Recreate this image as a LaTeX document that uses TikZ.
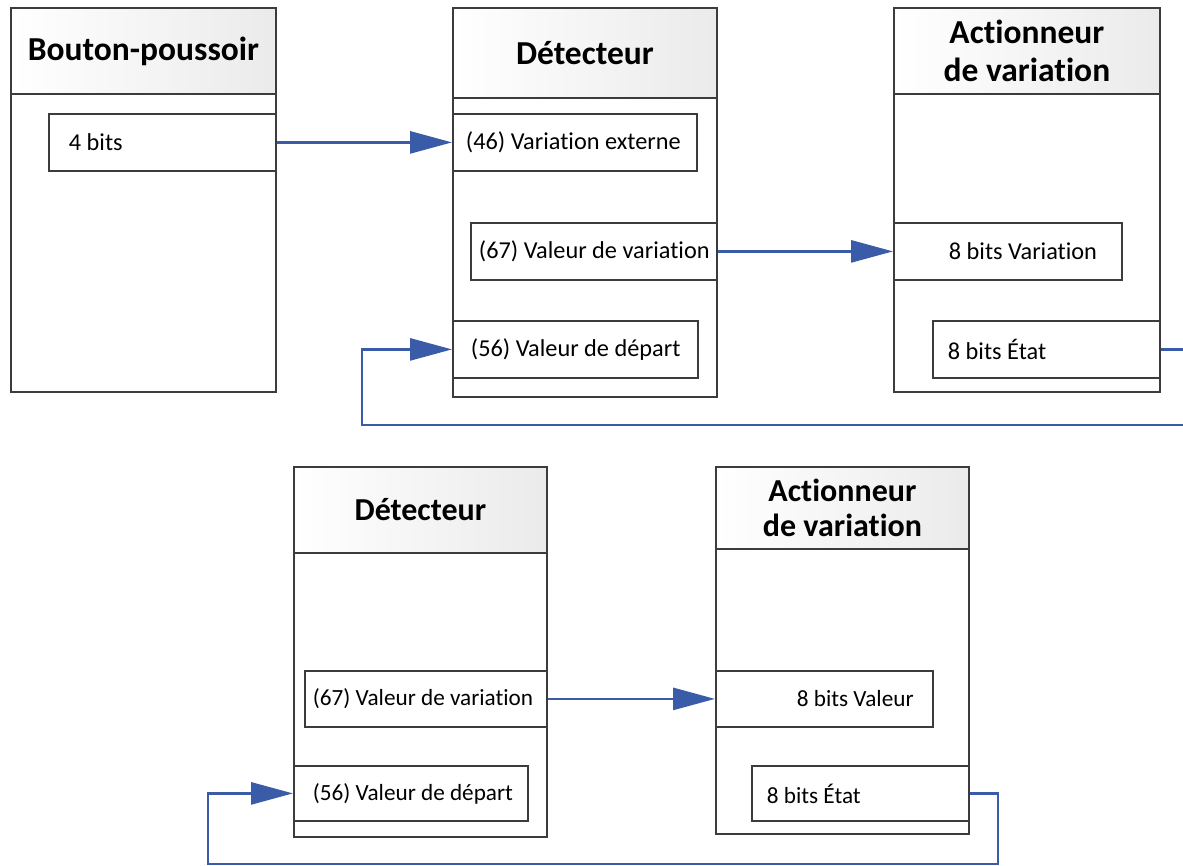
\documentclass[tikz,border=0pt]{standalone}
\usepackage{fontspec}
\setmainfont{Carlito}[RawFeature={-liga;-dlig;-calt}]
\usepackage{xcolor}
\usetikzlibrary{arrows.meta}

\definecolor{linkblue}{HTML}{3A5BA8}
\definecolor{boxline}{HTML}{3C3C3C}
\newcommand{\slotfont}{\fontsize{24.3}{29}\selectfont}
\newcommand{\slotfontsm}{\fontsize{23.2}{28}\selectfont}
\newcommand{\hdrfont}{\bfseries\fontsize{33.5}{38}\selectfont}
\newcommand{\hdrfontsm}{\bfseries\fontsize{32}{35}\selectfont}

\begin{document}
\begin{tikzpicture}[
  x=1pt, y=-1pt,
  modbox/.style={rectangle, draw=boxline, line width=1.8pt, anchor=north west,
                 inner sep=0pt},
  hdr/.style={rectangle, draw=boxline, line width=1.8pt, anchor=north west,
              inner sep=0pt, align=center, left color=white,
              right color=gray!16, font=\hdrfont},
  slot/.style={rectangle, draw=boxline, line width=1.8pt, fill=white,
               anchor=north west, minimum height=57pt, inner xsep=0pt,
               align=flush left, font=\slotfont},
  arr/.style={-{Triangle[length=42pt, width=22pt]}, line width=2.8pt, linkblue},
]
\useasboundingbox (0,0) rectangle (1183,866);
\clip (0,0) rectangle (1183,866);

% Top row: Bouton-poussoir
\node[modbox, minimum width=265pt, minimum height=384pt] (bp) at (10,7) {};
\node[hdr, minimum width=265pt, minimum height=86pt] (bphead) at (bp.north west) {Bouton-poussoir};
\node[slot, text width=227pt] (bits) at (48,113) {\hspace*{20pt}4 bits};

% Top row: Detecteur
\node[modbox, minimum width=264pt, minimum height=389pt] (det) at (452,7) {};
\node[hdr, minimum width=264pt, minimum height=90pt] (dethead) at (det.north west) {Détecteur};
\node[slot, text width=244pt] (varext) at (452,113) {\hspace*{13pt}(46) Variation externe};
\node[slot, text width=246pt] (valvar) at (470,222) {\hspace*{8pt}(67) Valeur de variation};
\node[slot, text width=245pt] (depart) at (452,320) {\hspace*{18pt}(56) Valeur de départ};

% Top row: Actionneur de variation
\node[modbox, minimum width=266pt, minimum height=384pt] (act) at (893,7) {};
\node[hdr, minimum width=266pt, minimum height=86pt] (acthead) at (act.north west) {Actionneur\\de variation};
\node[slot, text width=228pt] (bitsvar) at (893,222) {\hspace*{55pt}8 bits Variation};
\node[slot, text width=227pt] (etat) at (932,320) {\hspace*{15pt}8 bits État};

% Top row: links
\coordinate (retA) at (1195,425);
\draw[arr] (bits.east) -- (varext.west);
\draw[arr] (valvar.east) -- (bitsvar.west);
\draw[arr] (etat.east) -| (retA) -| ([xshift=-90pt]depart.west) -- (depart.west);

% Bottom row: Detecteur
\node[modbox, minimum width=253pt, minimum height=370pt] (detb) at (293,466) {};
\node[hdr, minimum width=253pt, minimum height=86pt, font=\hdrfontsm] (detbhead) at (detb.north west) {Détecteur};
\node[slot, text width=242pt, minimum height=56pt, font=\slotfontsm] (valvarb) at (304,670) {\hspace*{8pt}(67) Valeur de variation};
\node[slot, text width=234pt, minimum height=55pt, font=\slotfontsm] (departb) at (293,765) {\hspace*{19pt}(56) Valeur de départ};

% Bottom row: Actionneur de variation
\node[modbox, minimum width=253pt, minimum height=367pt] (actb) at (715,466) {};
\node[hdr, minimum width=253pt, minimum height=82pt, font=\hdrfontsm] (actbhead) at (actb.north west) {Actionneur\\de variation};
\node[slot, text width=217pt, minimum height=56pt, font=\slotfontsm] (valeurb) at (715,670) {\hspace*{81pt}8 bits Valeur};
\node[slot, text width=217pt, minimum height=55pt, font=\slotfontsm] (etatb) at (751,765) {\hspace*{15pt}8 bits État};

% Bottom row: links
\coordinate (retB) at (998,864);
\draw[arr] (valvarb.east) -- (valeurb.west);
\draw[arr] (etatb.east) -| (retB) -| ([xshift=-85pt]departb.west) -- (departb.west);

\end{tikzpicture}
\end{document}
